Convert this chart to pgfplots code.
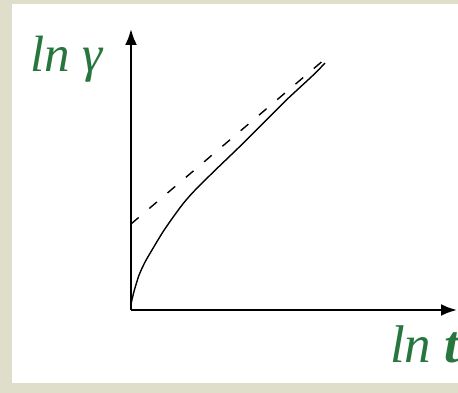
\documentclass[border=0pt]{standalone}
\usepackage{fontspec}
\setmainfont{Liberation Serif}
\usepackage{pgfplots}
\pgfplotsset{compat=1.18}
\usetikzlibrary{arrows.meta}
\definecolor{frame}{RGB}{222,222,202}
\definecolor{labgreen}{RGB}{38,118,62}

\begin{document}
\begin{tikzpicture}[x=1pt,y=1pt]
\fill[frame] (0,0) rectangle (458,393);
\fill[white] (12,10) rectangle (458,389);
\useasboundingbox (0,0) rectangle (458,393);
\begin{axis}[
    x=1pt, y=1pt,
    anchor=origin, at={(131pt,83pt)},
    xmin=0, xmax=326,
    ymin=0, ymax=281,
    axis lines=left,
    axis line style={line width=2.3pt, -{Latex[length=16pt,width=12pt]}},
    ticks=none,
    clip=false,
]
% tangent (dashed)
\addplot[black, line width=1.4pt, dash pattern=on 10pt off 14pt] coordinates {
(0,86) (194,251)
};
% measured curve
\addplot[black, line width=1.4pt, smooth, tension=0.4] coordinates {
(0,6) (3,18.6) (8,34.8) (14,47.9) (22,61.7) (32,78.2) (42,92.7) (52,106.2)
(62,117.7) (82,137.7) (109,163.7) (136,190.6) (156,210.6) (182,234.7) (194,246.9)
};
\end{axis}
\node[anchor=base west, inner sep=0, labgreen,
      font=\fontsize{51}{51}\selectfont\itshape] at (30,321) {ln γ};
\node[anchor=base west, inner sep=0, labgreen,
      font=\fontsize{53}{53}\selectfont\itshape] at (390,30) {ln \textbf{t}};
\end{tikzpicture}
\end{document}
